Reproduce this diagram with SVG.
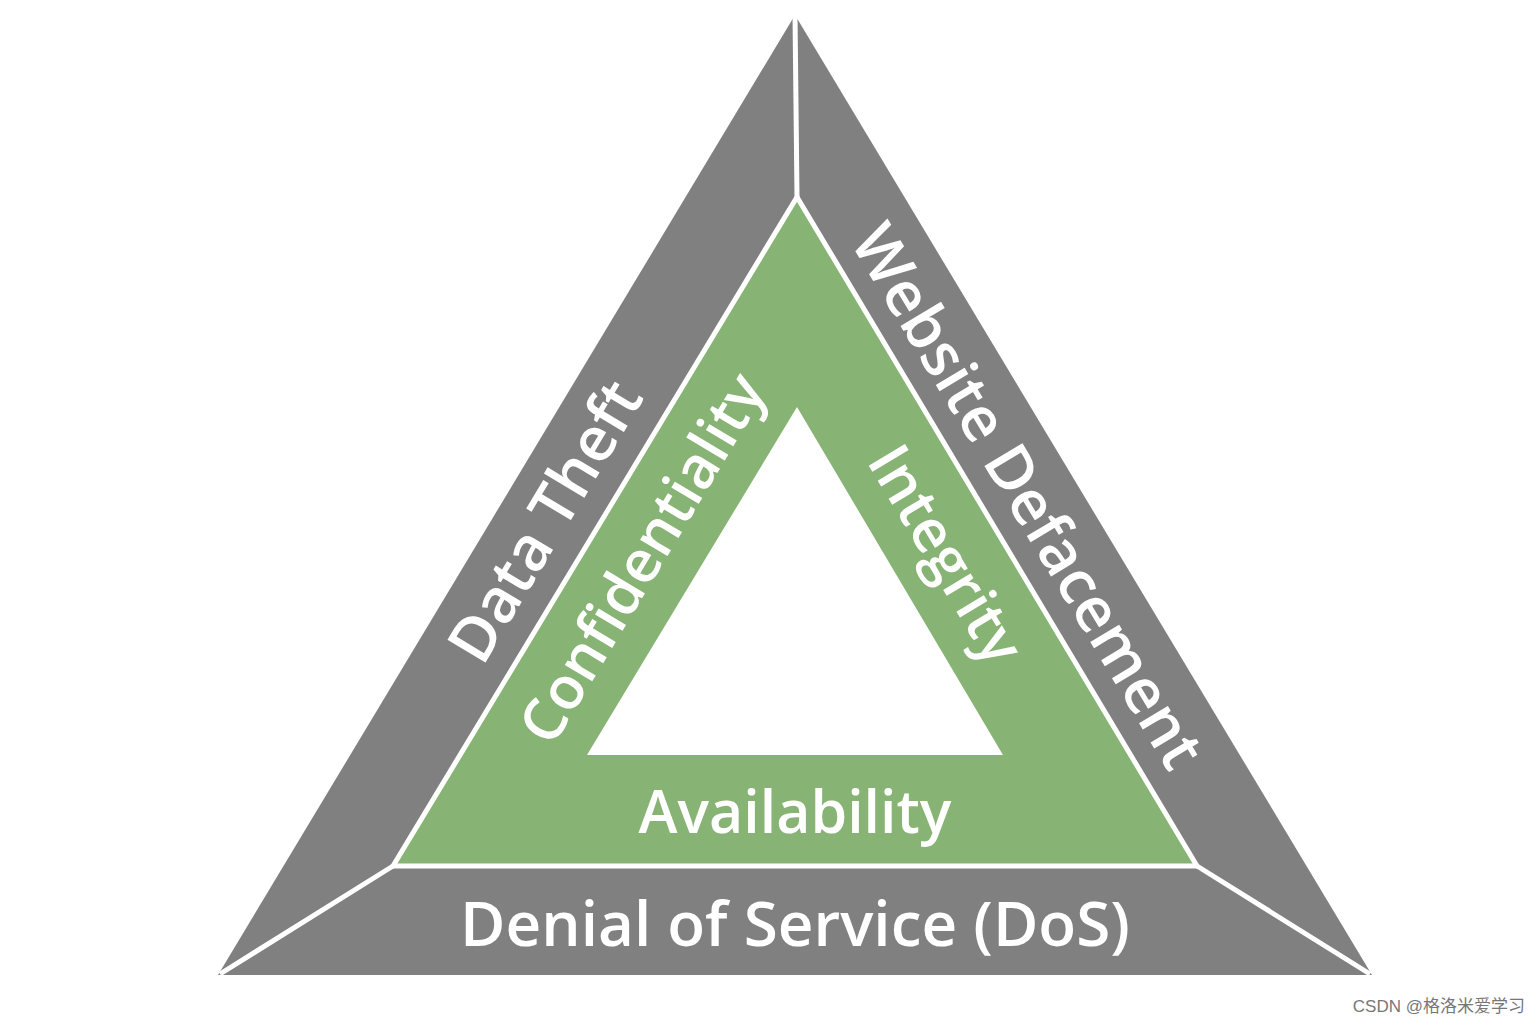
<svg xmlns="http://www.w3.org/2000/svg" width="1540" height="1027" viewBox="0 0 1540 1027">
<style>
.t{fill:#fff;font-family:"Open Sans","Liberation Sans",sans-serif;font-weight:600;text-anchor:middle;dominant-baseline:central}
.o{font-size:62px}.i{font-size:59px}
.w{stroke:#fff;stroke-width:5;fill:none}
</style>
<rect width="1540" height="1027" fill="#fff"/>
<g id="outer"><polygon points="795,15 218,975 1372,975" fill="#808080"/></g>
<g id="green"><polygon points="797,197 393,866 1197,866" fill="#87b474" stroke="#fff" stroke-width="5"/></g>
<g id="inner"><polygon points="797,407 587,755 1003,755" fill="#fff"/></g>
<g id="connectors">
<line class="w" x1="795" y1="15" x2="797" y2="197"/>
<line class="w" x1="393" y1="866" x2="220" y2="974"/>
<line class="w" x1="1197" y1="866" x2="1370" y2="974"/>
</g>
<g id="labels">
<text class="t o" transform="translate(543,520) rotate(-59)">Data Theft</text>
<text class="t o" transform="translate(1030,495) rotate(59)">Website Defacement</text>
<text class="t o" x="795" y="922">Denial of Service (DoS)</text>
<text class="t i" transform="translate(640,557) rotate(-59)">Confidentiality</text>
<text class="t i" transform="translate(948,553) rotate(59)">Integrity</text>
<text class="t i" x="795" y="810">Availability</text>
</g>
<text x="1525" y="1012" text-anchor="end" font-family="'Liberation Sans','Noto Sans CJK SC',sans-serif" font-size="17" fill="#777">CSDN @格洛米爱学习</text>
</svg>
